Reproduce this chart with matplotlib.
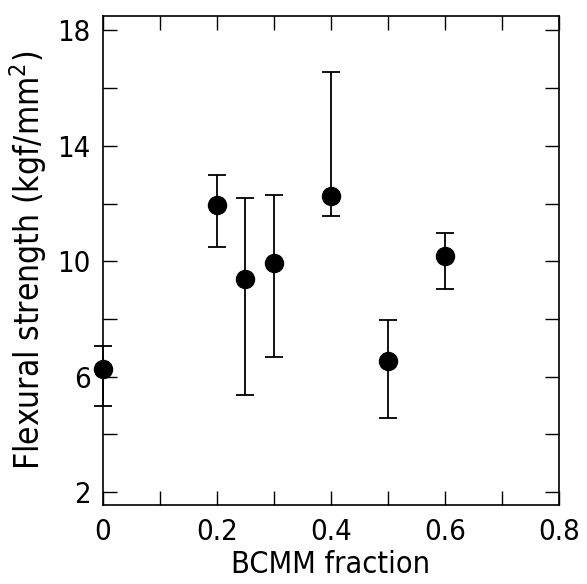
import matplotlib.pyplot as plt
from matplotlib.ticker import MultipleLocator
import numpy as np

# BCMM fraction vs flexural strength, asymmetric error bars
fraction = [0.0, 0.2, 0.25, 0.3, 0.4, 0.5, 0.6]
strength = [6.28, 11.94, 9.38, 9.93, 12.25, 6.55, 10.17]
err_top = [7.07, 12.98, 12.2, 12.3, 16.57, 7.95, 10.97]
err_bottom = [5.0, 10.5, 5.38, 6.7, 11.56, 4.58, 9.03]

strength = np.array(strength)
yerr = [strength - np.array(err_bottom), np.array(err_top) - strength]

plt.rcParams['font.family'] = ['DejaVu Sans']
plt.rcParams['font.stretch'] = 'condensed'

fig = plt.figure(figsize=(5.87, 5.84), dpi=100)
ax = fig.add_axes([0.1755, 0.135, 0.7765, 0.8376])

ax.errorbar(fraction, strength, yerr=yerr, fmt='o', color='black',
            markersize=13, ecolor='black', elinewidth=1.3, capsize=6.5,
            capthick=1.3, clip_on=False, zorder=3)

ax.set_xlim(0, 0.8)
ax.set_ylim(1.55, 18.5)
ax.xaxis.set_minor_locator(MultipleLocator(0.1))
ax.yaxis.set_minor_locator(MultipleLocator(2))
ax.set_yticks([2, 6, 10, 14, 18])
ax.set_xticks([0, 0.2, 0.4, 0.6, 0.8])
ax.set_xticklabels(['0', '0.2', '0.4', '0.6', '0.8'])

ax.tick_params(which='both', direction='in', top=True, right=True,
               length=10, width=1, labelsize=21, pad=9)
for s in ax.spines.values():
    s.set_linewidth(1.2)

ax.set_xlabel('BCMM fraction', fontsize=22, labelpad=3)
ax.set_ylabel('Flexural strength (kgf/mm$^2$)', fontsize=24, labelpad=6)

plt.savefig('out.png', dpi=100)
